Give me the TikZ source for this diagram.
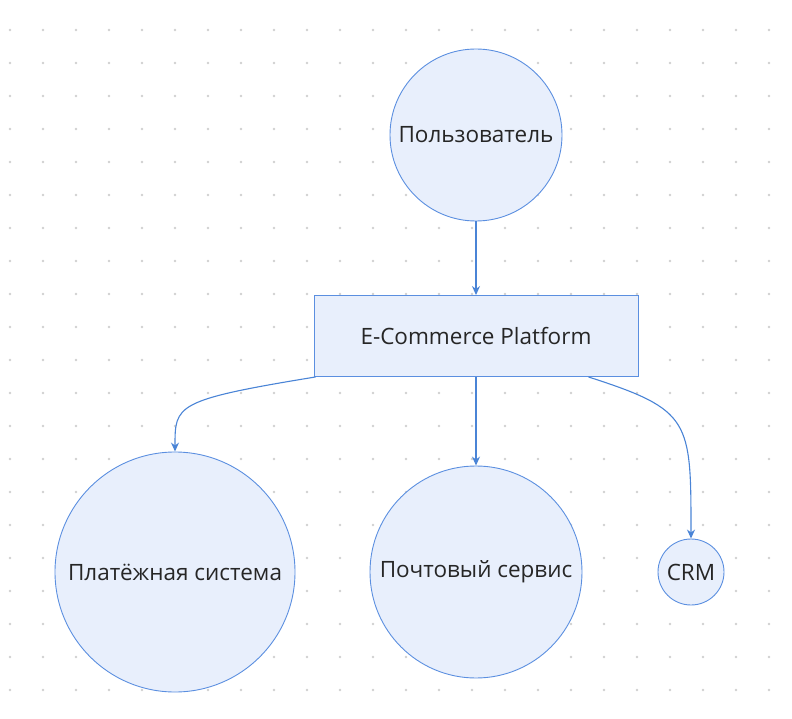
\documentclass[tikz,border=0pt]{standalone}
\usepackage{fontspec}
\setmainfont{Open Sans}
\usetikzlibrary{arrows.meta}
\definecolor{nodefill}{HTML}{E8EFFC}
\definecolor{nodeline}{HTML}{5B8FE0}
\definecolor{edgeline}{HTML}{4A84D6}
\definecolor{dotgray}{HTML}{CFCFCF}
\tikzset{
  sys/.style={circle, draw=nodeline, fill=nodefill, line width=0.9pt, inner sep=0pt, font=\fontsize{22.5}{26}\selectfont, text=black!85},
  flow/.style={draw=edgeline, line width=1.1pt, -{Stealth[length=9pt,width=8pt]}}
}
\begin{document}
\begin{tikzpicture}[x=1pt,y=-1pt]
  \useasboundingbox (0,0) rectangle (792,719);
  \foreach \x in {10,43,...,790} {
    \foreach \y in {30,63,...,719} {
      \fill[dotgray] (\x,\y) circle (1.3pt);
    }
  }
  \node[sys, minimum size=172pt] (user) at (476,135) {Пользователь};
  \node[draw=nodeline, fill=nodefill, line width=0.9pt, minimum width=324pt, minimum height=81pt, font=\fontsize{22.5}{26}\selectfont, text=black!85] (ecom) at (476,336) {E-Commerce Platform};
  \node[sys, minimum size=240pt] (pay) at (175,572) {Платёжная система};
  \node[sys, minimum size=212pt] (mail) at (476,572) {Почтовый сервис};
  \node[sys, minimum size=66pt] (crm) at (691,572) {CRM};
  \draw[flow] (user) -- (ecom);
  \draw[flow] (ecom) -- (mail);
  \draw[flow] ([xshift=2pt]ecom.south west) .. controls (175,400) and (175,405) .. (pay.north);
  \draw[flow] ([xshift=-50pt]ecom.south east) .. controls (691,410) and (691,420) .. (crm.north);
\end{tikzpicture}
\end{document}
